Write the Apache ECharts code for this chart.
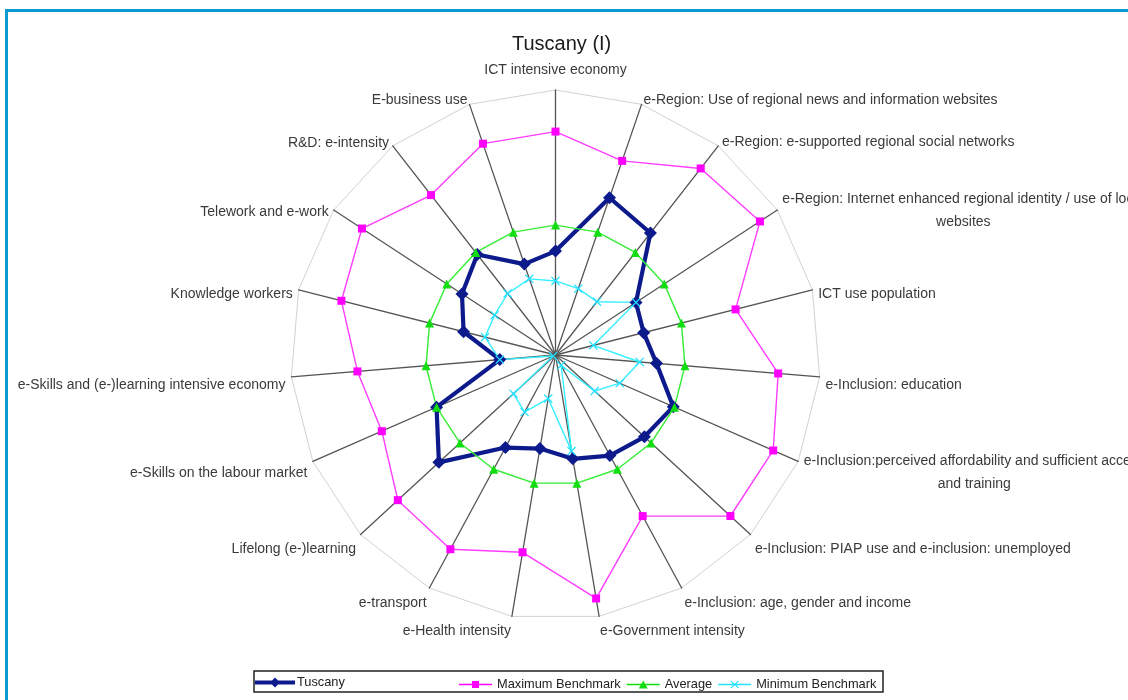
<!DOCTYPE html>
<html>
<head>
<meta charset="utf-8">
<script src="https://cdn.jsdelivr.net/npm/echarts@6/dist/echarts.min.js"></script>
<style>
html,body{margin:0;padding:0;background:#fff;}
#chart{width:1128px;height:700px;}
</style>
</head>
<body>
<div id="chart"></div>
<script>
// Indicators, listed clockwise from the top as in the reference
const categories = [
  'ICT intensive economy',
  'e-Region: Use of regional news and information websites',
  'e-Region: e-supported regional social networks',
  'e-Region: Internet enhanced regional identity / use of local\nwebsites',
  'ICT use population',
  'e-Inclusion: education',
  'e-Inclusion:perceived affordability and sufficient access\nand training',
  'e-Inclusion: PIAP use and e-inclusion: unemployed',
  'e-Inclusion: age, gender and income',
  'e-Government intensity',
  'e-Health intensity',
  'e-transport',
  'Lifelong (e-)learning',
  'e-Skills on the labour market',
  'e-Skills and (e-)learning intensive economy',
  'Knowledge workers',
  'Telework and e-work',
  'R&D: e-intensity',
  'E-business use'
];
const seriesNames = ['Tuscany', 'Maximum Benchmark', 'Average', 'Minimum Benchmark'];
const tuscany  = [80, 128, 119, 74, 70, 78, 99, 93, 88, 81, 73, 81, 122, 100, 43, 73, 86, 98, 74];
const maxBench = [172, 158, 182, 188, 143, 172, 183, 183, 141, 190, 154, 170, 165, 146, 153, 170, 178, 156, 172];
const average  = [100, 100, 100, 100, 100, 100, 100, 100, 100, 100, 100, 100, 100, 100, 100, 100, 100, 100, 100];
const minBench = [57, 54, 52, 74, 30, 65, 54, 41, 9, 75, 34, 50, 44, 2, 43, 56, 56, 60, 62];
const axisMax = 204;

// Layout only: vertical nudge (px, + = down) of each axis name, same order as categories
const labelNudge = [-7, 1, 1, 4, 6, 8, 8.5, 11, 10, 9, 9, 10, 11, 9, 8, 6, 5, 2, 1];

// ECharts places radar indicators counter-clockwise; reorder so they read clockwise
const order = [0].concat(categories.map((_, i) => i).slice(1).reverse());
const reorder = arr => order.map(i => arr[i]);

const FONT = '"Liberation Sans", Arial, sans-serif';
const TXT = '#3a3a3a';

const rich = {};
categories.forEach((name, i) => {
  const s = labelNudge[i];
  let pad;
  if (i === 0) pad = [0, 0, -s, 0];               // top label is bottom-aligned
  else pad = s >= 0 ? [2 * s, 0, 0, 0] : [0, 0, -2 * s, 0];
  const multi = name.indexOf('\n') >= 0;
  const base = {fontSize: 14, color: TXT, fontFamily: FONT, padding: pad};
  if (multi) {
    rich['l' + i] = Object.assign({lineHeight: 23}, base);
    rich['c' + i] = Object.assign({lineHeight: 23, align: 'center'}, base);
  } else {
    rich['s' + i] = base;
  }
});

const crossPath = 'path://M1,0 L5,4 L9,0 L10,1 L6,5 L10,9 L9,10 L5,6 L1,10 L0,9 L4,5 L0,1 Z';

const chart = echarts.init(document.getElementById('chart'), null, {renderer: 'canvas'});

const option = {
  animation: false,
  backgroundColor: '#ffffff',
  title: {
    text: 'Tuscany (I)',
    left: 507,
    top: 29,
    textStyle: {fontSize: 20, fontWeight: 'normal', color: '#1a1a1a', fontFamily: FONT}
  },
  legend: [
    {
      data: [{name: seriesNames[0], icon: 'path://M0,3 H40 V7 H0 Z M20,0 L25,5 L20,10 L15,5 Z'}],
      left: 255, top: 676, padding: 0,
      itemWidth: 40, itemHeight: 10, itemGap: 6,
      itemStyle: {borderWidth: 0},
      textStyle: {fontSize: 12.8, color: '#222', fontFamily: FONT, padding: [0, 0, 0, -3]}
    },
    {
      data: [
        {name: seriesNames[1], icon: 'path://M0,4.3 H33 V5.7 H0 Z M13,1.5 H20 V8.5 H13 Z'},
        {name: seriesNames[2], icon: 'path://M0,4.3 H33 V5.7 H0 Z M16.5,1 L21,9 L12,9 Z'},
        {name: seriesNames[3], icon: 'path://M0,4.3 H33 V5.7 H0 Z M13,1 L16.5,4.2 L20,1 L20.8,1.8 L17.3,5 L20.8,8.2 L20,9 L16.5,5.8 L13,9 L12.2,8.2 L15.7,5 L12.2,1.8 Z'}
      ],
      left: 459, top: 678, padding: 0,
      itemWidth: 33, itemHeight: 10, itemGap: 6,
      itemStyle: {borderWidth: 0},
      textStyle: {fontSize: 12.8, color: '#222', fontFamily: FONT}
    }
  ],
  radar: {
    center: [555.5, 355],
    radius: 265,
    shape: 'polygon',
    splitNumber: 1,
    nameGap: 6,
    indicator: reorder(categories).map(n => ({name: n, max: axisMax, min: 0})),
    axisName: {
      color: TXT,
      fontSize: 14,
      fontFamily: FONT,
      formatter: function (name) {
        const i = categories.indexOf(name);
        const parts = name.split('\n');
        if (parts.length > 1) {
          return '{l' + i + '|' + parts[0] + '}\n{c' + i + '|' + parts[1] + '}';
        }
        return '{s' + i + '|' + name + '}';
      },
      rich: rich
    },
    axisLine: {lineStyle: {color: '#555555', width: 1.3}},
    splitLine: {lineStyle: {color: '#d2d2d2', width: 1}},
    splitArea: {show: false},
    axisTick: {show: false},
    axisLabel: {show: false}
  },
  series: [
    {
      type: 'radar', name: seriesNames[0],
      symbol: 'diamond', symbolSize: 13,
      lineStyle: {color: '#0c1a8c', width: 4.2},
      itemStyle: {color: '#0c1a8c'},
      data: [{name: seriesNames[0], value: reorder(tuscany)}]
    },
    {
      type: 'radar', name: seriesNames[1],
      symbol: 'rect', symbolSize: 8,
      lineStyle: {color: '#ff3cff', width: 1.4},
      itemStyle: {color: '#ff00ff'},
      data: [{name: seriesNames[1], value: reorder(maxBench)}]
    },
    {
      type: 'radar', name: seriesNames[2],
      symbol: 'triangle', symbolSize: 9,
      lineStyle: {color: '#33ee33', width: 1.4},
      itemStyle: {color: '#11dd11'},
      data: [{name: seriesNames[2], value: reorder(average)}]
    },
    {
      type: 'radar', name: seriesNames[3],
      symbol: crossPath, symbolSize: 9,
      lineStyle: {color: '#33f0ff', width: 1.4},
      itemStyle: {color: '#22e0ff'},
      data: [{name: seriesNames[3], value: reorder(minBench)}]
    }
  ],
  graphic: [
    {type: 'line', shape: {x1: 5, y1: 10.5, x2: 1128, y2: 10.5}, style: {stroke: '#0b9bd1', lineWidth: 3}, silent: true},
    {type: 'line', shape: {x1: 6.5, y1: 9, x2: 6.5, y2: 700}, style: {stroke: '#0b9bd1', lineWidth: 3}, silent: true},
    {type: 'rect', shape: {x: 254, y: 671, width: 629, height: 21}, style: {fill: 'none', stroke: '#222', lineWidth: 1.5}, silent: true, z: -1}
  ]
};
chart.setOption(option);
</script>
</body>
</html>
